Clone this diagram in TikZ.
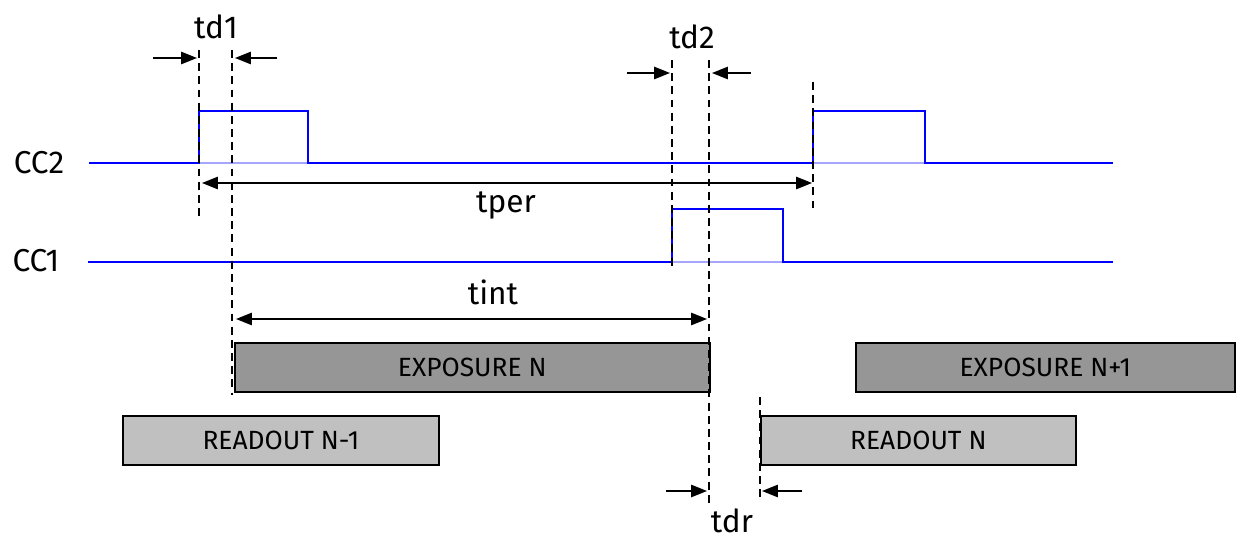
\documentclass[tikz,border=0pt]{standalone}
\usepackage{fontspec}
\setmainfont{Fira Sans}
\usetikzlibrary{arrows.meta}

\definecolor{expgray}{HTML}{969696}
\definecolor{rdgray}{HTML}{C0C0C0}

\tikzset{
  sig/.style={blue,line width=1.2pt},
  sigfaint/.style={blue!35,line width=1.2pt},
  guide/.style={line width=1.1pt,dash pattern=on 4.5pt off 3pt},
  dimarrow/.style={line width=0.9pt,-{Triangle[length=9pt,width=7pt]}},
  spanarrow/.style={line width=0.9pt,{Triangle[length=9pt,width=7pt]}-{Triangle[length=9pt,width=7pt]}},
  phase/.style={draw,line width=1pt,anchor=north west,inner sep=0pt,
    minimum height=0.98cm,font=\fontsize{15}{18}\selectfont},
  lbl/.style={font=\fontsize{18}{21}\selectfont},
}

\begin{document}
\begin{tikzpicture}[x=0.02cm,y=-0.02cm]
\useasboundingbox (0,0) rectangle (1236,540);

% time marks
\coordinate (t1) at (199,0);
\coordinate (t1d) at (232,0);
\coordinate (t2) at (672,0);
\coordinate (t2d) at (709,0);
\coordinate (tp) at (813,0);
\coordinate (tr) at (760,0);

% phase boxes
\node[phase,fill=expgray,minimum width=9.5cm] (expn) at (234,342) {EXPOSURE N};
\node[phase,fill=expgray,minimum width=7.58cm] (expn1) at (855,342) {EXPOSURE N+1};
\node[phase,fill=rdgray,minimum width=6.32cm] (rdn0) at (122,415) {READOUT N-1};
\node[phase,fill=rdgray,minimum width=6.3cm] (rdn) at (760,415) {READOUT N};

% signals
\node[lbl] (cc2) at (39,163) {CC2};
\node[lbl] (cc1) at (36,261) {CC1};
\draw[sigfaint] (199,163) -- (308,163) (813,163) -- (925,163);
\draw[sigfaint] (672,262) -- (783,262);
\draw[sig] (89,163) -- (199,163) |- (308,111) |- (813,163) |- (925,111) |- (1113,163);
\draw[sig] (88,262) -- (672,262) |- (783,209) |- (1113,262);

% dashed guides
\draw[guide] (t1) ++(0,50) -- ++(0,167);
\draw[guide] (t1d) ++(0,50) -- ++(0,345);
\draw[guide] (t2) ++(0,60) -- ++(0,210);
\draw[guide] (t2d) ++(0,60) -- ++(0,445);
\draw[guide] (tp) ++(0,82) -- ++(0,130);
\draw[guide] (tr) ++(0,397) -- ++(0,100);

% td1
\node[lbl] (td1) at (216,27) {td1};
\draw[dimarrow] (153,58) -- (197,58);
\draw[dimarrow] (277,58) -- (235,58);
% td2
\node[lbl] (td2) at (692,37) {td2};
\draw[dimarrow] (627,73) -- (670,73);
\draw[dimarrow] (751,73) -- (712,73);
% tper
\draw[spanarrow] (202,183) -- (812,183);
\node[lbl] (tper) at (506,205) {tper};
% tint
\draw[spanarrow] (236,319) -- (707,319);
\node[lbl] (tint) at (493,292) {tint};
% tdr
\draw[dimarrow] (666,491) -- (707,491);
\draw[dimarrow] (802,491) -- (762,491);
\node[lbl] (tdr) at (732,521) {tdr};
\end{tikzpicture}
\end{document}
